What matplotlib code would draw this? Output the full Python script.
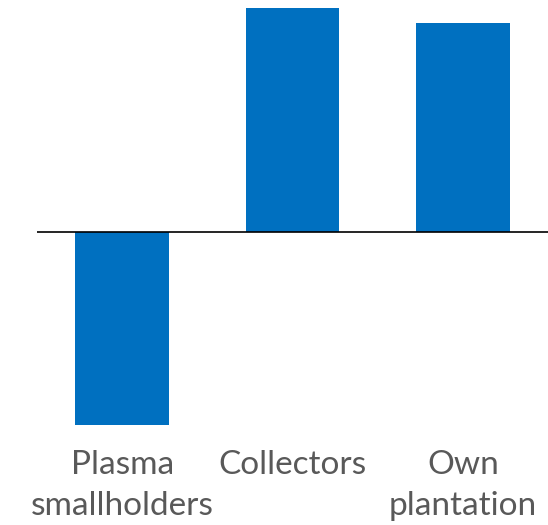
import numpy as np
import matplotlib
matplotlib.use("Agg")
import matplotlib.pyplot as plt

categories = ["Plasma\nsmallholders", "Collectors", "Own\nplantation"]
values = [-193, 224, 209]

bar_color = "#0070C0"
text_color = "#595959"

fig = plt.figure(figsize=(5.48, 5.25), dpi=100)
ax = fig.add_axes([37 / 548, 100 / 525, 511 / 548, 417 / 525])

x = np.arange(len(categories))
ax.bar(x, values, width=0.55, color=bar_color)
ax.axhline(0, color="black", linewidth=1.2)

ax.set_xlim(-0.5, 2.5)
ax.set_ylim(min(values), max(values))

ax.set_xticks(x)
ax.set_xticklabels(categories, fontsize=24, color=text_color,
                   family="Lato", linespacing=1.45)
ax.tick_params(axis="x", length=0, pad=18)
ax.set_yticks([])
for s in ax.spines.values():
    s.set_visible(False)

fig.savefig("out.png", dpi=100)
